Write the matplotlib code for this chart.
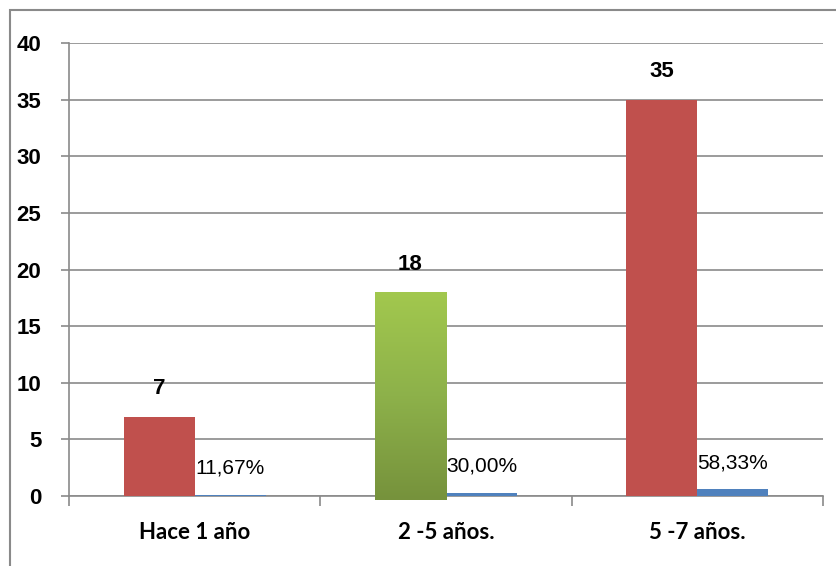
import numpy as np
import matplotlib
matplotlib.use("Agg")
import matplotlib.pyplot as plt
from matplotlib.patches import Rectangle
from matplotlib.colors import LinearSegmentedColormap

# datos
categorias = ["Hace 1 año", "2 -5 años.", "5 -7 años."]
cantidades = [7, 18, 35]
porcentajes = [11.67, 30.00, 58.33]
etiquetas_pct = ["11,67%", "30,00%", "58,33%"]

ROJO = "#C0504D"
AZUL = "#4F81BD"
GRIS = "#8A8A8A"
FUENTE = ["Liberation Sans", "DejaVu Sans"]

fig = plt.figure(figsize=(8.36, 5.66), dpi=100)
ax = fig.add_axes([69 / 836, 1 - 496 / 566, 754 / 836, 453 / 566])

x = np.arange(len(categorias))
ancho = 0.283

barras = ax.bar(x - ancho / 2, cantidades, ancho, color=ROJO, zorder=3)
ax.bar(x + ancho / 2, [p / 100 for p in porcentajes], ancho, color=AZUL, zorder=3)

# la barra del medio va en verde degradado
b = barras[1]
b.set_visible(False)
x0, w = b.get_x(), b.get_width()
verde = LinearSegmentedColormap.from_list("verde", ["#76923C", "#8DB14A", "#A2C84E"])
grad = np.linspace(0, 1, 256).reshape(-1, 1)
img = ax.imshow(grad, cmap=verde, origin="lower", aspect="auto",
                extent=(x0, x0 + w, -0.35, cantidades[1]), zorder=3)
clip = Rectangle((x0, -0.35), w, cantidades[1] + 0.35, transform=ax.transData)
img.set_clip_path(clip)

# etiquetas de valores
for xi, v in zip(x, cantidades):
    ax.annotate(str(v), (xi - ancho / 2, v), xytext=(0, 20), textcoords="offset points",
                ha="center", va="center", fontsize=16, fontweight="bold", family=FUENTE)
for xi, p, t in zip(x, porcentajes, etiquetas_pct):
    ax.annotate(t, (xi + ancho / 2, p / 100), xytext=(0, 19), textcoords="offset points",
                ha="center", va="center", fontsize=15, family=FUENTE)

ax.set_xlim(-0.5, 2.5)
ax.set_ylim(0, 40)
ax.set_yticks(range(0, 41, 5))
ax.grid(axis="y", color=GRIS, linewidth=1.2, zorder=0)
for s in ["top", "right"]:
    ax.spines[s].set_visible(False)
for s in ["left", "bottom"]:
    ax.spines[s].set_color(GRIS)
    ax.spines[s].set_linewidth(1.2)

ax.set_xticks([-0.5, 0.5, 1.5, 2.5])
ax.set_xticklabels([])
ax.set_xticks(x, minor=True)
ax.set_xticklabels(categorias, minor=True, fontsize=16, fontweight="bold", family="Lato")
ax.tick_params(axis="x", which="major", length=7, color=GRIS, width=1.2)
ax.tick_params(axis="x", which="minor", length=0, pad=19)
ax.tick_params(axis="y", length=6, color=GRIS, width=1.2, pad=14)
for lab in ax.get_yticklabels():
    lab.set_fontsize(16)
    lab.set_fontweight("bold")
    lab.set_family(FUENTE)

# marco exterior del gráfico
fig.add_artist(Rectangle((10 / 836, -0.1), 1.0, 1 - 10 / 566 + 0.1, transform=fig.transFigure,
                         fill=False, edgecolor=GRIS, linewidth=1.5))

fig.savefig("out.png", dpi=100)
